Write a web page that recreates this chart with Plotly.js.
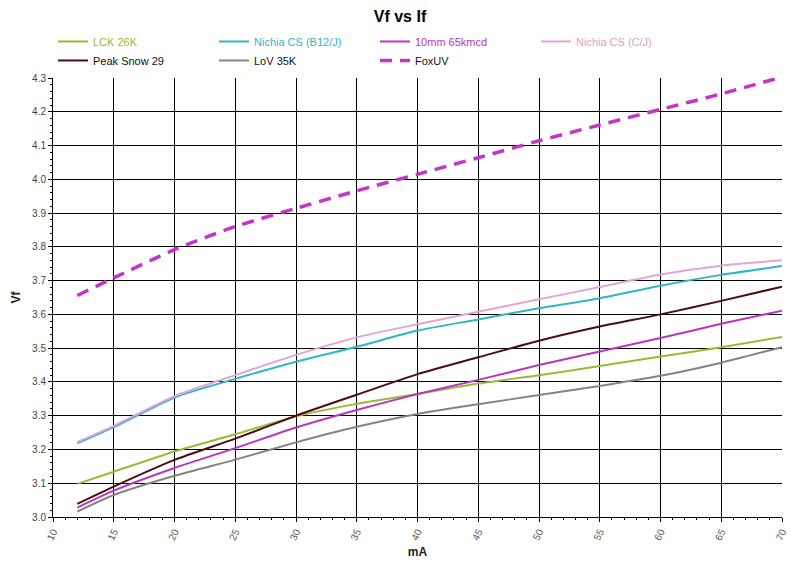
<!DOCTYPE html>
<html>
<head>
<meta charset="utf-8">
<script src="https://cdn.plot.ly/plotly-3.0.1.min.js"></script>
<style>
  html, body { margin: 0; padding: 0; background: #fff; }
  #chart { width: 800px; height: 562px; }
</style>
</head>
<body>
<div id="chart"></div>
<script>
// current in mA
const currentMA = [12, 15, 20, 25, 30, 35, 40, 45, 50, 55, 60, 65, 70];

// forward voltage per LED
const lck26k     = [3.098, 3.134, 3.194, 3.245, 3.298, 3.335, 3.364, 3.395, 3.420, 3.447, 3.475, 3.503, 3.533];
const nichiaB12J = [3.218, 3.266, 3.354, 3.409, 3.460, 3.504, 3.552, 3.585, 3.618, 3.648, 3.685, 3.717, 3.743];
const mm10       = [3.028, 3.078, 3.145, 3.204, 3.265, 3.317, 3.364, 3.406, 3.450, 3.490, 3.530, 3.572, 3.611];
const nichiaCJ   = [3.222, 3.270, 3.358, 3.420, 3.480, 3.532, 3.571, 3.608, 3.645, 3.681, 3.718, 3.744, 3.760];
const peakSnow29 = [3.039, 3.090, 3.169, 3.232, 3.300, 3.362, 3.423, 3.473, 3.522, 3.564, 3.600, 3.640, 3.682];
const lov35k     = [3.016, 3.065, 3.122, 3.170, 3.221, 3.267, 3.305, 3.334, 3.361, 3.388, 3.418, 3.457, 3.503];
const foxUV      = [3.656, 3.708, 3.792, 3.860, 3.914, 3.966, 4.015, 4.064, 4.114, 4.161, 4.207, 4.253, 4.303];

const series = [
  { name: 'LCK 26K',           y: lck26k,     color: '#9cb836', text: '#9cb836' },
  { name: 'Nichia CS (B12/J)', y: nichiaB12J, color: '#2fb6c8', text: '#2fb6c8' },
  { name: '10mm 65kmcd',       y: mm10,       color: '#b936c0', text: '#b936c0' },
  { name: 'Nichia CS (C/J)',   y: nichiaCJ,   color: '#e3a6d2', text: '#d9a0c8' },
  { name: 'Peak Snow 29',      y: peakSnow29, color: '#4a0d16', text: '#111111' },
  { name: 'LoV 35K',           y: lov35k,     color: '#848484', text: '#111111' },
  { name: 'FoxUV',             y: foxUV,      color: '#c534c8', text: '#111111', dash: true }
];

const traces = series.map(s => ({
  x: currentMA,
  y: s.y,
  type: 'scatter',
  mode: 'lines',
  name: '<span style="color:' + s.text + '">' + s.name + '</span>',
  line: {
    color: s.color,
    width: s.dash ? 3.5 : 2,
    dash: s.dash ? '12px,8px' : 'solid',
    shape: 'spline',
    smoothing: 0.6
  }
}));

const layout = {
  width: 800,
  height: 562,
  paper_bgcolor: '#ffffff',
  plot_bgcolor: '#ffffff',
  font: { family: 'Liberation Sans, Arial, sans-serif', size: 10, color: '#333' },
  margin: { l: 53, r: 18, t: 78, b: 45 },
  title: {
    text: '<b>Vf vs If</b>',
    font: { size: 16, color: '#000' },
    x: 0.5, xanchor: 'center', y: 0.98, yanchor: 'top'
  },
  showlegend: true,
  legend: {
    orientation: 'h',
    x: 0, xanchor: 'left',
    y: 0.952, yref: 'container', yanchor: 'top',
    entrywidth: 116,
    entrywidthmode: 'pixels',
    tracegroupgap: 0,
    itemwidth: 30,
    font: { size: 11, color: '#111' },
    bgcolor: 'rgba(0,0,0,0)'
  },
  xaxis: {
    range: [10, 70],
    dtick: 5,
    tick0: 10,
    showgrid: true,
    gridcolor: '#000',
    gridwidth: 1,
    zeroline: false,
    showline: true,
    linecolor: '#000',
    ticks: 'outside',
    ticklen: 4,
    tickcolor: '#000',
    tickangle: -65,
    tickfont: { size: 10, color: '#555' },
    minor: { dtick: 1, ticks: 'outside', ticklen: 2, tickcolor: '#000', showgrid: false },
    title: { text: '<b>mA</b>', font: { size: 12, color: '#222' }, standoff: 6 }
  },
  yaxis: {
    range: [3.0, 4.3],
    dtick: 0.1,
    tick0: 3.0,
    tickformat: '.1f',
    showgrid: true,
    gridcolor: '#000',
    gridwidth: 1,
    zeroline: false,
    showline: true,
    linecolor: '#000',
    ticks: 'outside',
    ticklen: 4,
    tickcolor: '#000',
    tickfont: { size: 10, color: '#444' },
    minor: { dtick: 0.02, ticks: 'outside', ticklen: 2, tickcolor: '#000', showgrid: false },
    title: { text: '<b>Vf</b>', font: { size: 12, color: '#222' }, standoff: 8 }
  }
};

Plotly.newPlot('chart', traces, layout, { displayModeBar: false, staticPlot: true });
</script>
</body>
</html>
